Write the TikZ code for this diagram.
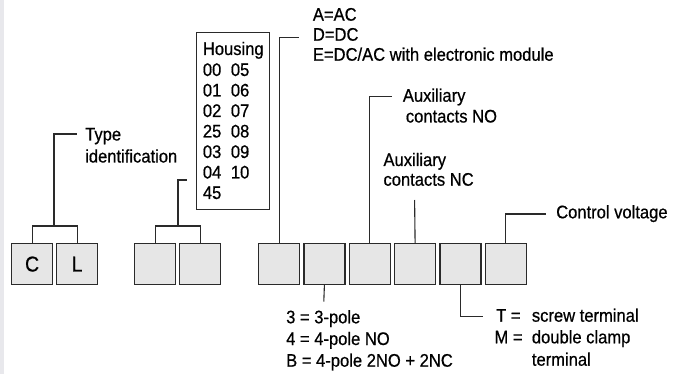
\documentclass[tikz,border=0pt]{standalone}
\usepackage{fontspec}
\setmainfont{Liberation Sans}[FakeStretch=0.91,FakeBold=0.6]
\definecolor{boxfill}{HTML}{E6E6E6}
\definecolor{linecol}{HTML}{2A2A2A}
\definecolor{strip}{HTML}{E8E8EC}
\begin{document}
\begin{tikzpicture}[x=1pt,y=-1pt,
  cell/.style={draw=linecol,fill=boxfill,line width=1.2pt,minimum width=41pt,minimum height=41pt,inner sep=0pt,anchor=north west,font=\fontsize{21.5}{24}\selectfont},
  lbl/.style={anchor=base west,inner sep=0pt,font=\fontsize{18.2}{20}\selectfont,text=black},
  conn/.style={draw=linecol,line width=1.1pt}]
\useasboundingbox (0,0) rectangle (683,374);
\fill[white] (0,0) rectangle (683,374);
\fill[strip] (0,0) rectangle (3.5,374);
% boxes
\node[cell] (c) at (11,243) {C};
\node[cell] (l) at (56,243) {L};
\node[cell] (h1) at (134,243) {};
\node[cell] (h2) at (179,243) {};
\node[cell] (g1) at (258,243) {};
\node[cell] (g2) at (303.3,243) {};
\node[cell] (g3) at (348.6,243) {};
\node[cell] (g4) at (394,243) {};
\node[cell] (g5) at (439.3,243) {};
\node[cell] (g6) at (484.6,243) {};
% housing box
\node[draw=linecol,line width=1pt,minimum width=73pt,minimum height=177pt,anchor=north west,inner sep=0pt] (hbox) at (196,32) {};
\node[lbl] (hs) at (202.7,55) {Housing};
\node[lbl] (r1) at (202.7,76) {\makebox[28pt][l]{00}05};
\node[lbl] (r2) at (202.7,96.5) {\makebox[28pt][l]{01}06};
\node[lbl] (r3) at (202.7,117) {\makebox[28pt][l]{02}07};
\node[lbl] (r4) at (202.7,137.5) {\makebox[28pt][l]{25}08};
\node[lbl] (r5) at (202.7,158) {\makebox[28pt][l]{03}09};
\node[lbl] (r6) at (202.7,178.5) {\makebox[28pt][l]{04}10};
\node[lbl] (r7) at (202.7,199) {45};
% labels
\node[lbl] (t1) at (85,140.5) {Type};
\node[lbl] (t2) at (85,162.5) {identification};
\node[lbl] (a1) at (312.7,20.7) {A=AC};
\node[lbl] (a2) at (312.7,40.7) {D=DC};
\node[lbl] (a3) at (312.7,60.7) {E=DC/AC with electronic module};
\node[lbl] (no1) at (402.7,101.7) {Auxiliary};
\node[lbl] (no2) at (405.7,122.5) {contacts NO};
\node[lbl] (nc1) at (383.3,166) {Auxiliary};
\node[lbl] (nc2) at (383.3,185.7) {contacts NC};
\node[lbl] (cv) at (556,218.3) {Control voltage};
\node[lbl] (p1) at (286,323.3) {3 = 3-pole};
\node[lbl] (p2) at (286,345) {4 = 4-pole NO};
\node[lbl] (p3) at (286,366.7) {B = 4-pole 2NO + 2NC};
\node[lbl] (tt) at (496,321.7) {T =};
\node[lbl] (tm) at (494.3,343.3) {M =};
\node[lbl] (s1) at (531.7,321.7) {screw terminal};
\node[lbl] (s2) at (531.7,343.3) {double clamp};
\node[lbl] (s3) at (531.7,365.7) {terminal};
% connector coordinates
\coordinate (clmid) at (54,226);
\coordinate (clend) at (77,134);
\coordinate (hmid) at (178,226);
\coordinate (hend) at (187,180);
\coordinate (g1end) at (299,37.7);
\coordinate (g3end) at (392.3,96.7);
\coordinate (g4end) at (414.6,200);
\coordinate (g6end) at (545.7,214);
\coordinate (g2end) at (323.8,301.7);
\coordinate (g5end) at (483.3,316.7);
% connectors
\draw[conn] (c.north) |- (clmid) -| (l.north);
\draw[conn] (clmid) |- (clend);
\draw[conn] (h1.north) |- (hmid) -| (h2.north);
\draw[conn] (hmid) |- (hend);
\draw[conn] (g1.north) |- (g1end);
\draw[conn] (g3.north) |- (g3end);
\draw[conn] (g4.north) -- (g4end);
\draw[conn] (g6.north) |- (g6end);
\draw[conn] (g2.south) -- (g2end);
\draw[conn] (g5.south) |- (g5end);
\end{tikzpicture}
\end{document}
